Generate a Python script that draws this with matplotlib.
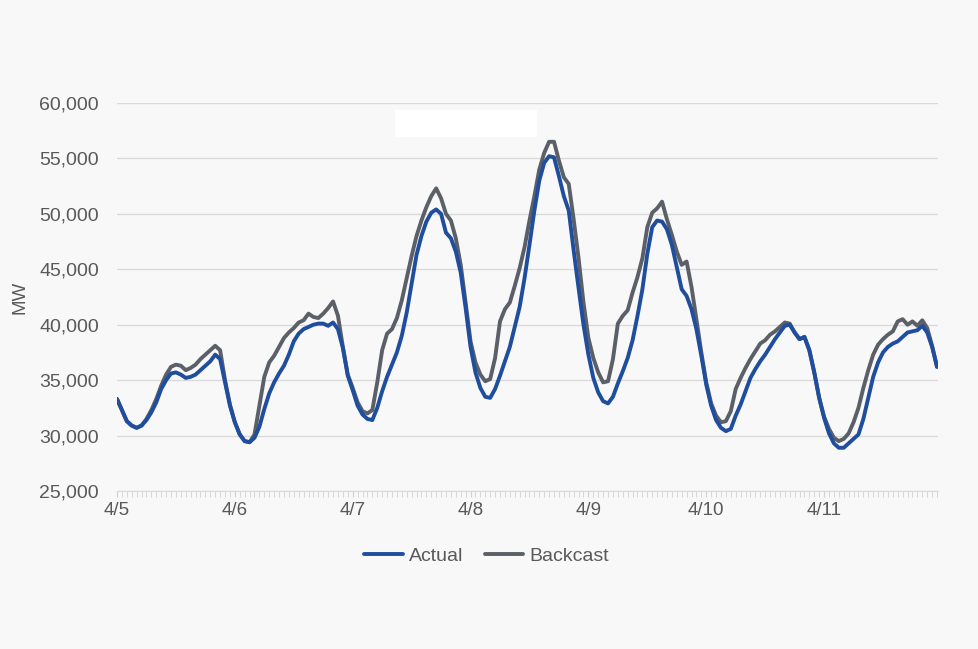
import matplotlib
matplotlib.use("Agg")
import matplotlib.pyplot as plt
from matplotlib.patches import Rectangle
import numpy as np

plt.rcParams['font.family'] = ['Liberation Sans', 'DejaVu Sans']

day_labels = ["4/5", "4/6", "4/7", "4/8", "4/9", "4/10", "4/11"]
y_ticks = [25000, 30000, 35000, 40000, 45000, 50000, 55000, 60000]

actual = [
    # 4/5
    33300, 32300, 31300, 30900, 30700, 30900, 31400, 32100, 33000, 34200, 35000, 35600,
    35700, 35500, 35200, 35300, 35500, 35900, 36300, 36700, 37300, 36900, 34800, 32700,
    # 4/6
    31200, 30100, 29500, 29400, 29800, 30800, 32400, 33800, 34800, 35600, 36300, 37300,
    38500, 39200, 39600, 39800, 40000, 40100, 40100, 39900, 40200, 39600, 37900, 35400,
    # 4/7
    34100, 32700, 31900, 31500, 31400, 32500, 34000, 35300, 36400, 37500, 39000, 41100,
    43700, 46300, 48000, 49300, 50100, 50400, 50000, 48300, 47800, 46600, 44700, 41500,
    # 4/8
    38000, 35700, 34300, 33500, 33400, 34200, 35400, 36700, 38000, 39800, 41600, 44200,
    47200, 50300, 53000, 54600, 55200, 55100, 53400, 51600, 50300, 46700, 43300, 40000,
    # 4/9
    37300, 35200, 33900, 33100, 32900, 33500, 34700, 35800, 37000, 38600, 40800, 43200,
    46400, 48800, 49400, 49300, 48600, 47200, 45200, 43200, 42600, 41400, 39600, 37200,
    # 4/10
    34600, 32700, 31400, 30700, 30400, 30600, 31800, 32800, 34000, 35200, 36000, 36700,
    37300, 38000, 38700, 39300, 39900, 40000, 39300, 38700, 38900, 37700, 35700, 33400,
    # 4/11
    31600, 30200, 29300, 28900, 28900, 29300, 29700, 30100, 31500, 33400, 35300, 36600,
    37500, 38000, 38300, 38500, 38900, 39300, 39400, 39500, 39900, 39300, 38000, 36200,
]

backcast = [
    # 4/5
    33300, 32300, 31300, 30900, 30700, 30900, 31500, 32300, 33300, 34500, 35500, 36200,
    36400, 36300, 35900, 36100, 36400, 36900, 37300, 37700, 38100, 37700, 35000, 32800,
    # 4/6
    31200, 30100, 29500, 29400, 30100, 32700, 35300, 36600, 37200, 38000, 38800, 39300,
    39700, 40200, 40400, 41000, 40700, 40600, 41000, 41500, 42100, 40800, 38000, 35500,
    # 4/7
    34300, 33000, 32200, 32000, 32300, 34800, 37700, 39200, 39600, 40600, 42200, 44200,
    46200, 48000, 49400, 50600, 51600, 52300, 51400, 50000, 49400, 47800, 45400, 42000,
    # 4/8
    38500, 36600, 35500, 34900, 35100, 37000, 40300, 41400, 42000, 43500, 45100, 47000,
    49400, 51600, 54000, 55500, 56500, 56500, 54800, 53300, 52700, 49500, 46000, 42000,
    # 4/9
    38800, 37000, 35700, 34800, 34900, 36900, 40100, 40800, 41300, 42900, 44300, 46000,
    48800, 50100, 50500, 51100, 49500, 48100, 46600, 45400, 45700, 43400, 40500, 37500,
    # 4/10
    34800, 32900, 31800, 31200, 31300, 32200, 34200, 35200, 36100, 36900, 37600, 38300,
    38600, 39100, 39400, 39800, 40200, 40100, 39300, 38700, 38900, 37700, 35700, 33400,
    # 4/11
    31700, 30600, 29800, 29500, 29700, 30200, 31200, 32500, 34300, 35900, 37300, 38200,
    38700, 39100, 39400, 40300, 40500, 40000, 40300, 39900, 40400, 39700, 38100, 36200,
]

hours = np.arange(len(actual))
bg = "#f8f8f8"
text_col = "#595959"

fig = plt.figure(figsize=(9.79, 6.49), dpi=100, facecolor=bg)
ax = fig.add_axes([117/979, 1 - 491/649, (938 - 117)/979, (491 - 103)/649])
ax.set_facecolor(bg)

ax.plot(hours, actual, color="#1f4e9e", lw=2.8, label="Actual", zorder=3,
        solid_joinstyle="round", solid_capstyle="round")
ax.plot(hours, backcast, color="#5b6068", lw=2.8, label="Backcast", zorder=2,
        solid_joinstyle="round", solid_capstyle="round")

ax.set_xlim(0, len(actual) - 1 + 0.2)
ax.set_ylim(25000, 60000)
ax.set_yticks(y_ticks)
ax.set_yticklabels([f"{v:,}" for v in y_ticks])
ax.set_xticks(np.arange(len(day_labels)) * 24)
ax.set_xticklabels(day_labels)
ax.set_xticks(hours, minor=True)

ax.grid(axis="y", color="#dadada", lw=1.0)
ax.set_axisbelow(True)
for s in ["top", "right", "left"]:
    ax.spines[s].set_visible(False)
ax.spines["bottom"].set_color("#d9d9d9")
ax.tick_params(axis="y", length=0, labelsize=14, labelcolor=text_col, pad=13)
ax.tick_params(axis="x", which="major", length=4, color="#d0d0d0",
               labelsize=13.5, labelcolor=text_col, pad=4)
ax.tick_params(axis="x", which="minor", length=4, color="#d0d0d0", width=0.6)

ax.set_ylabel("MW", fontsize=13.5, color=text_col, labelpad=8)

leg = ax.legend(loc="upper center", bbox_to_anchor=(0.45, -0.1), ncol=2,
                frameon=False, fontsize=14, handlelength=2.0, handletextpad=0.3,
                columnspacing=1.1)
for t in leg.get_texts():
    t.set_color(text_col)

fig.patches.append(Rectangle((395/979, 1 - 137/649), (537 - 395)/979, 27/649,
                             transform=fig.transFigure, facecolor="white",
                             edgecolor="none", zorder=5))

fig.savefig("out.png", dpi=100, facecolor=bg)
